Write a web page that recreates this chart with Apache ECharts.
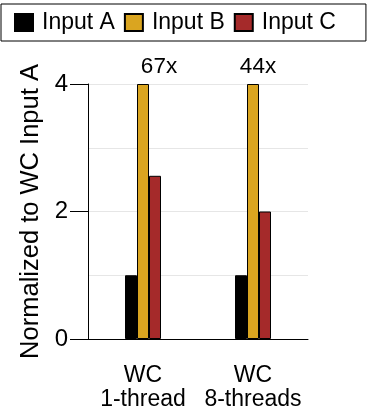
<!DOCTYPE html>
<html>
<head>
<meta charset="utf-8">
<script src="https://cdn.jsdelivr.net/npm/echarts@6/dist/echarts.min.js"></script>
<style>
  html, body { margin: 0; padding: 0; background: #fff; }
  #chart { width: 370px; height: 412px; }
</style>
</head>
<body>
<div id="chart"></div>
<script>
const categories = ['WC\n1-thread', 'WC\n8-threads']
const seriesNames = ['Input A', 'Input B', 'Input C']
const inputA = [1, 1]
const inputB = [4, 4] // clipped at axis max, real value in label
const inputC = [2.56, 2.0]
const inputBLabels = ['67x', '44x']
const yTicks = [0, 2, 4]

const font = 'Liberation Sans, Arial, sans-serif'
const colors = ['#000000', '#DAA520', '#A52A2A']
const labelOffsets = [[16, 0], [5, 0]]

const chart = echarts.init(document.getElementById('chart'))

const barStyle = (i) => ({
  color: colors[i],
  borderColor: '#000',
  borderWidth: 1
})

chart.setOption({
  animation: false,
  textStyle: { fontFamily: font },
  legend: {
    data: seriesNames,
    icon: 'rect',
    left: 1,
    top: 4,
    padding: [7, 30, 7, 13],
    itemWidth: 18,
    itemHeight: 17,
    itemGap: 9,
    borderColor: '#000',
    borderWidth: 1,
    textStyle: { fontSize: 23, color: '#000', fontFamily: font, padding: [0, 0, 0, 4] }
  },
  grid: {
    left: 88,
    right: 62,
    top: 84,
    bottom: 69
  },
  xAxis: {
    type: 'category',
    data: categories,
    axisLine: { lineStyle: { color: '#000', width: 1 } },
    axisTick: { alignWithLabel: true, length: 18, lineStyle: { color: '#000' } },
    axisLabel: { fontSize: 23, color: '#000', lineHeight: 24, margin: 25, interval: 0 }
  },
  yAxis: {
    type: 'value',
    min: yTicks[0],
    max: yTicks[yTicks.length - 1],
    interval: 2,
    name: 'Normalized to WC Input A',
    nameLocation: 'middle',
    nameGap: 43,
    nameTextStyle: { fontSize: 25.5, color: '#000' },
    axisLine: { show: true, lineStyle: { color: '#000', width: 1 } },
    axisTick: { show: true, length: 18, lineStyle: { color: '#000' } },
    axisLabel: { fontSize: 24, color: '#000', margin: 20 },
    splitLine: { show: true, lineStyle: { color: '#e6e6e6' } },
    minorTick: { show: false, splitNumber: 2 },
    minorSplitLine: { show: true, lineStyle: { color: '#e6e6e6' } }
  },
  series: [
    {
      name: seriesNames[0],
      type: 'bar',
      barWidth: 12,
      barGap: '0%',
      data: inputA,
      itemStyle: barStyle(0)
    },
    {
      name: seriesNames[1],
      type: 'bar',
      barWidth: 12,
      barGap: '0%',
      data: inputB.map((v, i) => ({
        value: v,
        label: {
          show: true,
          position: 'top',
          distance: 6,
          offset: labelOffsets[i],
          formatter: inputBLabels[i],
          fontSize: 22.5,
          color: '#000'
        }
      })),
      itemStyle: barStyle(2 - 1)
    },
    {
      name: seriesNames[2],
      type: 'bar',
      barWidth: 12,
      barGap: '0%',
      data: inputC,
      itemStyle: barStyle(2)
    }
  ]
})
</script>
</body>
</html>
